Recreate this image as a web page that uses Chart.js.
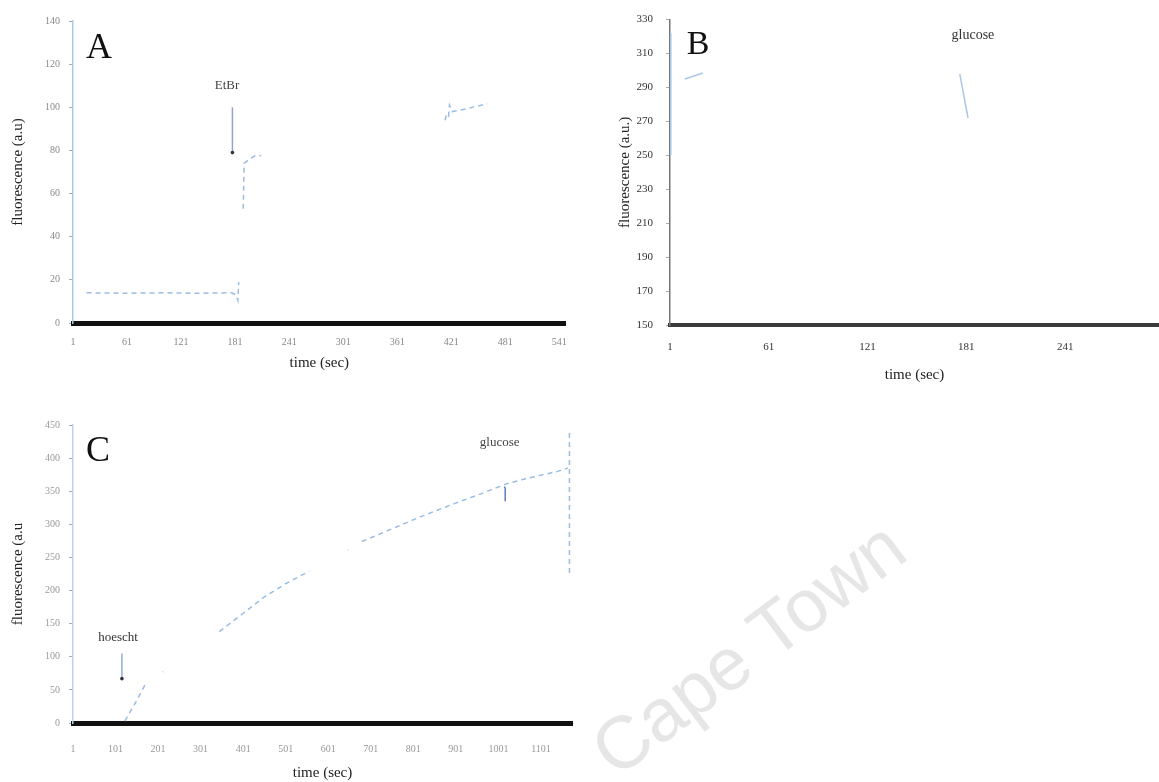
<!DOCTYPE html>
<html>
<head>
<meta charset="utf-8">
<script src="https://cdn.jsdelivr.net/npm/chart.js@4.4.1/dist/chart.umd.min.js"></script>
<style>
  body { margin: 0; background: #fff; }
  #page { position: relative; width: 1159px; height: 782px; overflow: hidden; }
  canvas { position: absolute; }
  #mark {
    position: absolute; left: 748px; top: 648px;
    transform: translate(-50%, -50%) rotate(-37deg);
    font: 74px "Liberation Sans", Arial, sans-serif; color: #e6e6e6;
    white-space: nowrap;
  }
</style>
</head>
<body>
<div id="page">
  <div id="mark">Cape Town</div>
  <canvas id="chartA" width="580" height="380" style="left:0;top:0"></canvas>
  <canvas id="chartB" width="579" height="386" style="left:580px;top:0"></canvas>
  <canvas id="chartC" width="580" height="382" style="left:0;top:400px"></canvas>
</div>
<script>
// panel A - EtBr
const xTicksA = [1, 61, 121, 181, 241, 301, 361, 421, 481, 541];
const yTicksA = [0, 20, 40, 60, 80, 100, 120, 140];
const timeA = [16, 60, 100, 140, 177, 182, 184, 185, null, 190, 191, 197, 203, 210, null, 414, 416, 418, 419, 422, 440, 461];
const fluoA = [14, 13.8, 14, 13.8, 14, 13, 10.5, 19, null, 53, 74, 76, 77.5, 77.6, null, 94, 97, 96, 101, 98, 99.5, 101.7];
const arrowTimeA = [178, 178];
const arrowFluoA = [100, 79];

// panel B - glucose
const xTicksB = [1, 61, 121, 181, 241];
const yTicksB = [150, 170, 190, 210, 230, 250, 270, 290, 310, 330];
const timeB = [1.5, 1.5, null, 10, 21, null, 177, 182];
const fluoB = [250, 322, null, 295, 298.5, null, 298, 272];

// panel C - hoescht then glucose
const xTicksC = [1, 101, 201, 301, 401, 501, 601, 701, 801, 901, 1001, 1101];
const yTicksC = [0, 50, 100, 150, 200, 250, 300, 350, 400, 450];
const timeC = [123, 150, 174, null, 212, 213, null, 345, 400, 450, 500, 532, 556, null, 647, 648, null, 680, 750, 820, 900, 960, 1007, 1024, 1060, 1100, 1140, 1164, null, 1168, 1168];
const fluoC = [3, 33, 62, null, 77, 77.5, null, 138, 165, 190, 210, 221, 229, null, 261, 261.5, null, 274, 293, 312, 332, 346, 358, 362, 368, 374, 380, 385, null, 438, 223];
const arrowTimeC = [116, 116];
const arrowFluoC = [105, 67];
const dipTimeC = [1015, 1017, 1017];
const dipFluoC = [357, 354, 335];

const pts = (xs, ys) => xs.map((x, i) => ({ x: x, y: ys[i] }));

const notes = {
  id: 'notes',
  afterDatasetsDraw(chart, args, opts) {
    const { ctx, scales } = chart;
    (opts.items || []).forEach(n => {
      ctx.save();
      ctx.font = n.font;
      ctx.fillStyle = n.color || '#111';
      ctx.textAlign = 'center';
      ctx.textBaseline = 'middle';
      ctx.fillText(n.text, scales.x.getPixelForValue(n.x), scales.y.getPixelForValue(n.y));
      ctx.restore();
    });
  }
};

function traceSet(xs, ys, color, dash) {
  return {
    data: pts(xs, ys),
    borderColor: color,
    borderWidth: 1.5,
    borderDash: dash || [],
    pointRadius: 0,
    spanGaps: false,
    tension: 0
  };
}

function arrowSet(xs, ys, color) {
  return {
    data: pts(xs, ys),
    borderColor: color,
    borderWidth: 1.5,
    pointRadius: [0, 1.8],
    pointBackgroundColor: '#333',
    pointBorderWidth: 0
  };
}

function makeChart(id, cfg) {
  return new Chart(document.getElementById(id), {
    type: 'line',
    data: { datasets: cfg.datasets },
    plugins: [notes],
    options: {
      responsive: false,
      animation: false,
      layout: { padding: { top: cfg.top, right: cfg.right || 0, left: 0, bottom: 0 } },
      plugins: {
        legend: { display: false },
        tooltip: { enabled: false },
        notes: { items: cfg.notes }
      },
      scales: {
        x: {
          type: 'linear',
          min: cfg.xMin,
          max: cfg.xMax,
          afterBuildTicks: s => { s.ticks = cfg.xTicks.map(v => ({ value: v })); },
          afterFit: s => { s.height = cfg.xHeight; },
          grid: { display: false, drawTicks: false },
          border: { color: cfg.baseColor, width: cfg.baseWidth, dash: cfg.baseDash || [] },
          ticks: {
            padding: cfg.xPad,
            maxRotation: 0,
            autoSkip: false,
            color: cfg.tickColor,
            font: { family: 'Liberation Serif', size: cfg.tickSize },
            callback: v => String(v)
          },
          title: {
            display: true,
            text: 'time (sec)',
            color: '#222',
            padding: { top: 0, bottom: cfg.xTitlePad },
            font: { family: 'Liberation Serif', size: 15 }
          }
        },
        y: {
          min: cfg.yTicks[0],
          max: cfg.yTicks[cfg.yTicks.length - 1],
          afterBuildTicks: s => { s.ticks = cfg.yTicks.map(v => ({ value: v })); },
          afterFit: s => { s.width = cfg.yWidth; },
          grid: { drawOnChartArea: false, drawTicks: true, tickLength: 4, color: '#aaa' },
          border: { color: cfg.yColor, width: 1.5 },
          ticks: {
            padding: cfg.yPad,
            color: cfg.tickColor,
            font: { family: 'Liberation Serif', size: cfg.tickSize },
            callback: v => String(v)
          },
          title: {
            display: true,
            text: cfg.yTitle,
            color: '#222',
            padding: { top: cfg.yTitlePad, bottom: 0 },
            font: { family: 'Liberation Serif', size: 15 }
          }
        }
      }
    }
  });
}

makeChart('chartA', {
  datasets: [
    traceSet(timeA, fluoA, '#9bbde3', [5, 4]),
    arrowSet(arrowTimeA, arrowFluoA, '#9a9fd0')
  ],
  xMin: 1, xMax: 548, xTicks: xTicksA, yTicks: yTicksA,
  top: 21, right: 10, xHeight: 57, yWidth: 73,
  xPad: 13, xTitlePad: 8, yPad: 9, yTitlePad: 9,
  baseColor: '#111', baseWidth: 5,
  yColor: '#a9c9ea', tickColor: '#888', tickSize: 10,
  yTitle: 'fluorescence (a.u)',
  notes: [
    { text: 'A', x: 30, y: 127, font: '36px "Liberation Serif"' },
    { text: 'EtBr', x: 172, y: 110, font: '13px "Liberation Serif"', color: '#444' }
  ]
});

makeChart('chartB', {
  datasets: [
    traceSet(timeB, fluoB, '#a9c7e6', [])
  ],
  xMin: 1, xMax: 298, xTicks: xTicksB, yTicks: yTicksB,
  top: 18, right: 0, xHeight: 61, yWidth: 90,
  xPad: 16, xTitlePad: 2, yPad: 13, yTitlePad: 36,
  baseColor: '#3a3a3a', baseWidth: 4, baseDash: [3, 1],
  yColor: '#777', tickColor: '#333', tickSize: 11,
  yTitle: 'fluorescence (a.u.)',
  notes: [
    { text: 'B', x: 18, y: 315, font: '34px "Liberation Serif"' },
    { text: 'glucose', x: 185, y: 321, font: '14px "Liberation Serif"', color: '#333' }
  ]
});

makeChart('chartC', {
  datasets: [
    traceSet(timeC, fluoC, '#9bbde3', [5, 4]),
    arrowSet(arrowTimeC, arrowFluoC, '#93acd8'),
    traceSet(dipTimeC, dipFluoC, '#5a7fb8', [])
  ],
  xMin: 1, xMax: 1174, xTicks: xTicksC, yTicks: yTicksC,
  top: 25, right: 8, xHeight: 59, yWidth: 73,
  xPad: 20, xTitlePad: 0, yPad: 9, yTitlePad: 9,
  baseColor: '#111', baseWidth: 5,
  yColor: '#b9d2ee', tickColor: '#999', tickSize: 10,
  yTitle: 'fluorescence (a.u',
  notes: [
    { text: 'C', x: 60, y: 410, font: '36px "Liberation Serif"' },
    { text: 'hoescht', x: 107, y: 129, font: '13px "Liberation Serif"', color: '#333' },
    { text: 'glucose', x: 1004, y: 424, font: '13px "Liberation Serif"', color: '#444' }
  ]
});
</script>
</body>
</html>
